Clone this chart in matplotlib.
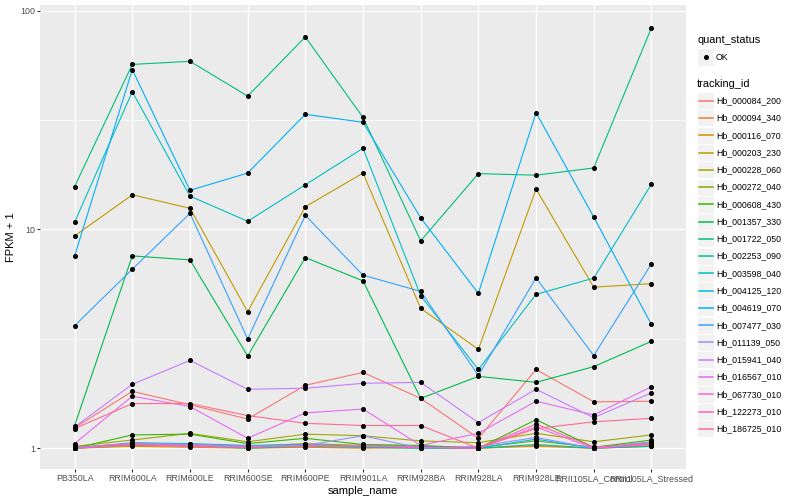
import matplotlib
matplotlib.use("Agg")
import matplotlib.pyplot as plt
from matplotlib.lines import Line2D
from matplotlib.patches import Rectangle
import numpy as np

plt.rcParams["font.family"] = ["Liberation Sans", "DejaVu Sans"]

# ---------------------------------------------------------------------------
# Datos (FPKM + 1 por muestra)
# ---------------------------------------------------------------------------

samples = ["PB350LA", "RRIM600LA", "RRIM600LE", "RRIM600SE", "RRIM600PE",
           "RRIM901LA", "RRIM928BA", "RRIM928LA", "RRIM928LE",
           "RRII105LA_Control", "RRII105LA_Stressed"]

tracking_ids = ["Hb_000084_200", "Hb_000094_340", "Hb_000116_070", "Hb_000203_230",
                "Hb_000228_060", "Hb_000272_040", "Hb_000608_430", "Hb_001357_330",
                "Hb_001722_050", "Hb_002253_090", "Hb_003598_040", "Hb_004125_120",
                "Hb_004619_070", "Hb_007477_030", "Hb_011139_050", "Hb_015941_040",
                "Hb_016567_010", "Hb_067730_010", "Hb_122273_010", "Hb_186725_010"]

hb_000084_200 = [1.24, 1.82, 1.58, 1.36, 1.94, 2.22, 1.69, 1.11, 2.29, 1.63, 1.64]
hb_000094_340 = [1.00, 1.03, 1.02, 1.01, 1.02, 1.01, 1.00, 1.00, 1.02, 1.00, 1.03]
hb_000116_070 = [1.00, 1.02, 1.01, 1.00, 1.01, 1.00, 1.01, 1.00, 1.03, 1.00, 1.02]
hb_000203_230 = [9.34, 14.4, 12.5, 4.21, 12.7, 18.1, 4.36, 2.83, 15.3, 5.45, 5.65]
hb_000228_060 = [1.02, 1.09, 1.17, 1.07, 1.16, 1.14, 1.08, 1.06, 1.17, 1.07, 1.15]
hb_000272_040 = [1.01, 1.05, 1.04, 1.02, 1.05, 1.03, 1.02, 1.01, 1.08, 1.01, 1.06]
hb_000608_430 = [1.00, 1.15, 1.16, 1.05, 1.11, 1.04, 1.03, 1.00, 1.35, 1.01, 1.09]
hb_001357_330 = [1.27, 7.57, 7.26, 2.64, 7.44, 5.82, 1.69, 2.13, 2.00, 2.36, 3.08]
hb_001722_050 = [15.7, 56.8, 58.7, 40.7, 75.9, 32.5, 8.87, 18.0, 17.7, 19.1, 83.4]
hb_002253_090 = [1.00, 1.04, 1.03, 1.00, 1.02, 1.01, 1.00, 1.00, 1.04, 1.00, 1.02]
hb_003598_040 = [10.8, 42.6, 14.2, 10.9, 16.0, 23.5, 4.98, 2.29, 5.05, 5.99, 16.1]
hb_004125_120 = [1.00, 1.06, 1.05, 1.03, 1.04, 1.02, 1.02, 1.00, 1.10, 1.00, 1.05]
hb_004619_070 = [7.57, 53.8, 15.1, 18.1, 33.6, 30.9, 11.3, 5.10, 34.2, 11.4, 3.68]
hb_007477_030 = [3.63, 6.58, 11.85, 3.16, 11.6, 6.18, 5.21, 2.15, 6.01, 2.65, 6.96]
hb_011139_050 = [1.01, 1.05, 1.04, 1.02, 1.03, 1.14, 1.00, 1.02, 1.12, 1.00, 1.07]
hb_015941_040 = [1.25, 1.96, 2.52, 1.86, 1.88, 1.98, 2.00, 1.31, 1.86, 1.38, 1.79]
hb_016567_010 = [1.05, 1.73, 1.55, 1.11, 1.45, 1.51, 1.03, 1.17, 1.64, 1.42, 1.91]
hb_067730_010 = [1.00, 1.04, 1.02, 1.01, 1.03, 1.02, 1.01, 1.00, 1.25, 1.00, 1.04]
hb_122273_010 = [1.00, 1.05, 1.03, 1.02, 1.02, 1.03, 1.01, 1.00, 1.29, 1.01, 1.05]
hb_186725_010 = [1.23, 1.60, 1.60, 1.41, 1.30, 1.27, 1.27, 1.00, 1.23, 1.32, 1.37]

series = [hb_000084_200, hb_000094_340, hb_000116_070, hb_000203_230,
          hb_000228_060, hb_000272_040, hb_000608_430, hb_001357_330,
          hb_001722_050, hb_002253_090, hb_003598_040, hb_004125_120,
          hb_004619_070, hb_007477_030, hb_011139_050, hb_015941_040,
          hb_016567_010, hb_067730_010, hb_122273_010, hb_186725_010]

# paleta hue de ggplot para 20 niveles
colours = ["#F8766D", "#EA8331", "#D89000", "#C09B00", "#A3A500", "#7CAE00",
           "#39B600", "#00BB4E", "#00BF7D", "#00C1A3", "#00BFC4", "#00BAE0",
           "#00B0F6", "#35A2FF", "#9590FF", "#C77CFF", "#E76BF3", "#FA62DB",
           "#FF62BC", "#FF6C91"]

# ---------------------------------------------------------------------------
# Figura
# ---------------------------------------------------------------------------

W, H = 800, 500
fig = plt.figure(figsize=(8, 5), dpi=100)
ax = fig.add_axes([40 / W, 1 - 469 / H, (686 - 40) / W, (469 - 5) / H])
ax.set_facecolor("#EBEBEB")
for s in ax.spines.values():
    s.set_visible(False)

x = np.arange(1, len(samples) + 1)
for vals, col in zip(series, colours):
    ax.plot(x, vals, color=col, lw=0.8, zorder=3)
for vals in series:
    ax.plot(x, vals, "o", color="black", ms=2.6, zorder=4, lw=0)

ax.set_yscale("log")
ax.set_ylim(10 ** -0.095, 10 ** 2.026)
ax.set_xlim(0.4, len(samples) + 0.6)
ax.set_xticks(x)
ax.set_xticklabels(samples)
ax.set_yticks([1, 10, 100])
ax.set_yticklabels(["1", "10", "100"])
ax.yaxis.set_minor_locator(matplotlib.ticker.FixedLocator([10 ** 0.5, 10 ** 1.5]))
ax.yaxis.set_minor_formatter(matplotlib.ticker.NullFormatter())

ax.grid(which="major", color="white", lw=1.0, zorder=0)
ax.grid(which="minor", axis="y", color="white", lw=0.5, zorder=0)
ax.set_axisbelow(True)
ax.tick_params(which="major", length=2.2, width=0.8, color="#333333",
               labelsize=6.4, labelcolor="#4D4D4D", pad=1.5)
ax.tick_params(which="minor", length=0)

ax.set_xlabel("sample_name", fontsize=8, labelpad=2)
ax.set_ylabel("FPKM + 1", fontsize=8, labelpad=3)

# ---------------------------------------------------------------------------
# Leyendas (dibujadas a mano, estilo ggplot)
# ---------------------------------------------------------------------------

def fx(px):
    return px / W


def fy(py):
    return 1 - py / H


key_x, key_w, key_h = 697, 17, 17
label_x = 716

fig.text(fx(697), fy(40), "quant_status", fontsize=7.9, va="center", ha="left")
fig.patches.append(Rectangle((fx(key_x), fy(57 + key_h / 2)), key_w / W, key_h / H,
                             transform=fig.transFigure, facecolor="#F2F2F2",
                             edgecolor="white", lw=0.8, zorder=1))
fig.lines.append(Line2D([fx(key_x + key_w / 2)], [fy(57)], marker="o", ms=2.6,
                        color="black", transform=fig.transFigure, zorder=3))
fig.text(fx(label_x), fy(57), "OK", fontsize=6.3, va="center", ha="left")

fig.text(fx(697), fy(84), "tracking_id", fontsize=7.9, va="center", ha="left")
step = 17.27
for i, (tid, col) in enumerate(zip(tracking_ids, colours)):
    yc = 100.7 + i * step
    fig.patches.append(Rectangle((fx(key_x), fy(yc + key_h / 2)), key_w / W, key_h / H,
                                 transform=fig.transFigure, facecolor="#F2F2F2",
                                 edgecolor="white", lw=0.8, zorder=1))
    fig.lines.append(Line2D([fx(key_x + 1.5), fx(key_x + key_w - 1.5)], [fy(yc), fy(yc)],
                            color=col, lw=1.1, transform=fig.transFigure, zorder=3))
    fig.text(fx(label_x), fy(yc), tid, fontsize=6.3, va="center", ha="left")

fig.savefig("out.png", dpi=100)
